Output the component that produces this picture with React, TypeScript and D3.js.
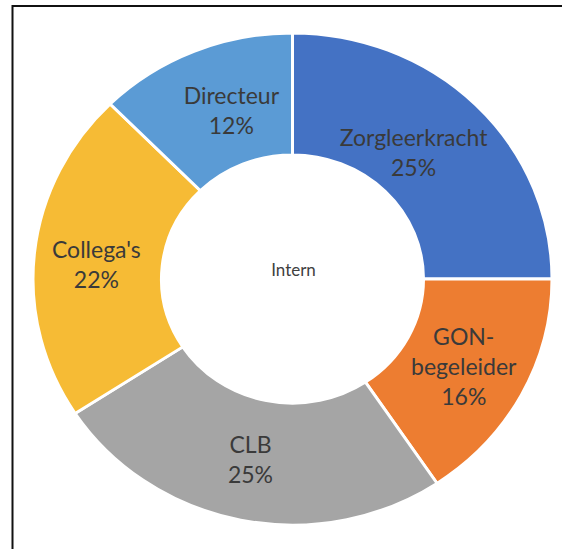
import React from "react";
import * as d3 from "d3";

const categories = ["Zorgleerkracht", "GON-begeleider", "CLB", "Collega's", "Directeur"];
const labelLines = [["Zorgleerkracht"], ["GON-", "begeleider"], ["CLB"], ["Collega's"], ["Directeur"]];
const values = [25, 15.6, 25.2, 21.8, 12.4];
const colors = ["#4472C4", "#ED7D31", "#A5A5A5", "#F6BB35", "#5B9BD5"];
const centerTitle = "Intern";

const W = 562;
const H = 549;
const cx = 292.5;
const cy = 279;
const rOuter = 259.5;
const rInner = 131;
const yScale = 0.948;
const labelNudge: Record<string, [number, number]> = {
  Zorgleerkracht: [-17, 5],
  Directeur: [13, 3],
  "Collega's": [-2, 6],
  CLB: [-3, 0],
  "GON-begeleider": [-1, 1],
};

export default function App() {
  const pie = d3.pie<number>().value((d) => d).sort(null);
  const arcs = pie(values);
  const arc = d3.arc<d3.PieArcDatum<number>>().innerRadius(rInner).outerRadius(rOuter);
  const total = d3.sum(values);
  const lineH = 30;
  return (
    <svg width={W} height={H} style={{ position: "absolute", left: 0, top: 0, background: "#fff" }}>
      <rect x={12.5} y={6} width={700} height={700} fill="#fff" stroke="#111" strokeWidth={2} />
      <g transform={`translate(${cx},${cy}) scale(1,${yScale})`}>
        {arcs.map((a, i) => (
          <path key={categories[i]} d={arc(a) || ""} fill={colors[i]} stroke="#fff" strokeWidth={3} />
        ))}
      </g>
      {arcs.map((a, i) => {
        const [mx, my] = arc.centroid(a);
        const nudge = labelNudge[categories[i]] || [0, 0];
        const x = cx + mx + nudge[0];
        const y = cy + my * yScale + nudge[1];
        const lines = [...labelLines[i], `${Math.round((values[i] / total) * 100)}%`];
        const y0 = y - ((lines.length - 1) * lineH) / 2;
        return (
          <text
            key={categories[i]}
            textAnchor="middle"
            fontFamily="Lato, 'Open Sans', sans-serif"
            fontSize={23}
            fill="#3a3a3a"
          >
            {lines.map((l, j) => (
              <tspan key={j} x={x} y={y0 + j * lineH} dy="0.35em">
                {l}
              </tspan>
            ))}
          </text>
        );
      })}
      <text
        x={cx + 1}
        y={270}
        dy="0.35em"
        textAnchor="middle"
        fontFamily="Lato, 'Open Sans', sans-serif"
        fontSize={17}
        fill="#404040"
      >
        {centerTitle}
      </text>
    </svg>
  );
}
